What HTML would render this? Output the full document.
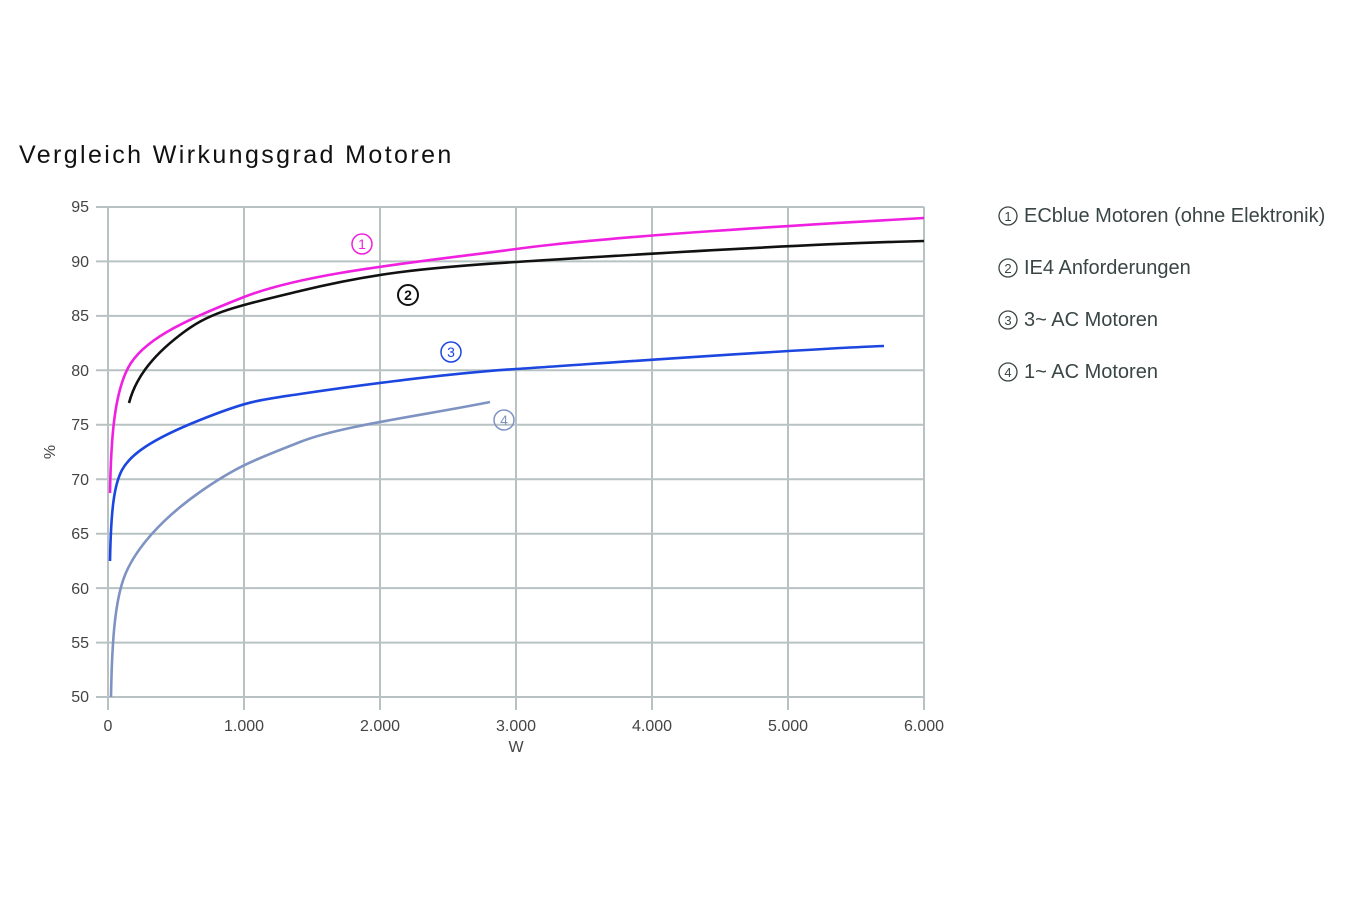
<!DOCTYPE html>
<html><head><meta charset="utf-8"><style>
body{margin:0;background:#fff;}
svg{display:block;font-family:"Liberation Sans",sans-serif;}
</style></head><body>
<svg width="1350" height="900" viewBox="0 0 1350 900">
<text x="19" y="163" font-size="25" fill="#111" letter-spacing="2.4">Vergleich Wirkungsgrad Motoren</text>
<g stroke="#b8c2c2" stroke-width="2" fill="none">
<line x1="96" y1="207" x2="924" y2="207"/><line x1="96" y1="261.4" x2="924" y2="261.4"/>
<line x1="96" y1="315.9" x2="924" y2="315.9"/><line x1="96" y1="370.3" x2="924" y2="370.3"/>
<line x1="96" y1="424.8" x2="924" y2="424.8"/><line x1="96" y1="479.2" x2="924" y2="479.2"/>
<line x1="96" y1="533.7" x2="924" y2="533.7"/><line x1="96" y1="588.1" x2="924" y2="588.1"/>
<line x1="96" y1="642.6" x2="924" y2="642.6"/><line x1="96" y1="697" x2="924" y2="697"/>
<line x1="108" y1="207" x2="108" y2="710"/><line x1="244" y1="207" x2="244" y2="710"/>
<line x1="380" y1="207" x2="380" y2="710"/><line x1="516" y1="207" x2="516" y2="710"/>
<line x1="652" y1="207" x2="652" y2="710"/><line x1="788" y1="207" x2="788" y2="710"/>
<line x1="924" y1="207" x2="924" y2="710"/>
</g>
<g font-size="16" fill="#444" text-anchor="end">
<text x="89" y="212">95</text><text x="89" y="267">90</text><text x="89" y="321">85</text>
<text x="89" y="376">80</text><text x="89" y="430">75</text><text x="89" y="485">70</text>
<text x="89" y="539">65</text><text x="89" y="594">60</text><text x="89" y="648">55</text>
<text x="89" y="702">50</text>
</g>
<g font-size="16" fill="#444" text-anchor="middle">
<text x="108" y="731">0</text><text x="244" y="731">1.000</text><text x="380" y="731">2.000</text>
<text x="516" y="731">3.000</text><text x="652" y="731">4.000</text><text x="788" y="731">5.000</text>
<text x="924" y="731">6.000</text><text x="516" y="752">W</text>
</g>
<text x="55" y="452" font-size="16" fill="#444" text-anchor="middle" transform="rotate(-90 55 452)">%</text>
<g fill="none" stroke-width="2.6" stroke-linejoin="round">
<path stroke="#7f93c2" d="M111,697 C112,640 115,600 125,575 S160,520 200,492 S260,458 300,442 S420,416 490,402"/>
<path stroke="#1b46e0" d="M110,561 C111,510 114,485 122,470 S150,440 200,420 S260,400 300,394 S440,374 516,369 S800,349 884,346"/>
<path stroke="#111" d="M129,403 C135,380 150,358 180,335 S230,308 300,291 S420,268 516,262 S800,244 924,241"/>
<path stroke="#f020e0" d="M110,493 C111,440 114,395 128,368 S180,322 244,297 S420,262 516,249 S800,225 924,218"/>
</g>
<g font-size="14" text-anchor="middle" fill="none" stroke-width="1.5">
<circle cx="362" cy="244" r="10" stroke="#f020e0"/><text x="362" y="249" fill="#f020e0" stroke="none">1</text>
<circle cx="408" cy="295" r="10" stroke="#111" stroke-width="2"/><text x="408" y="300" fill="#111" stroke="none" font-weight="bold">2</text>
<circle cx="451" cy="352" r="10" stroke="#1b46e0"/><text x="451" y="357" fill="#1b46e0" stroke="none">3</text>
<circle cx="504" cy="420" r="10" stroke="#7f93c2"/><text x="504" y="425" fill="#7f93c2" stroke="none">4</text>
</g>
<g font-size="20" fill="#3a4545">
<circle cx="1008" cy="216" r="9" fill="none" stroke="#3a4545" stroke-width="1.3"/><text x="1008" y="221" font-size="13" text-anchor="middle">1</text>
<text x="1024" y="222">ECblue Motoren (ohne Elektronik)</text>
<circle cx="1008" cy="268" r="9" fill="none" stroke="#3a4545" stroke-width="1.3"/><text x="1008" y="273" font-size="13" text-anchor="middle">2</text>
<text x="1024" y="274">IE4 Anforderungen</text>
<circle cx="1008" cy="320" r="9" fill="none" stroke="#3a4545" stroke-width="1.3"/><text x="1008" y="325" font-size="13" text-anchor="middle">3</text>
<text x="1024" y="326">3~ AC Motoren</text>
<circle cx="1008" cy="372" r="9" fill="none" stroke="#3a4545" stroke-width="1.3"/><text x="1008" y="377" font-size="13" text-anchor="middle">4</text>
<text x="1024" y="378">1~ AC Motoren</text>
</g>
</svg>
</body></html>
